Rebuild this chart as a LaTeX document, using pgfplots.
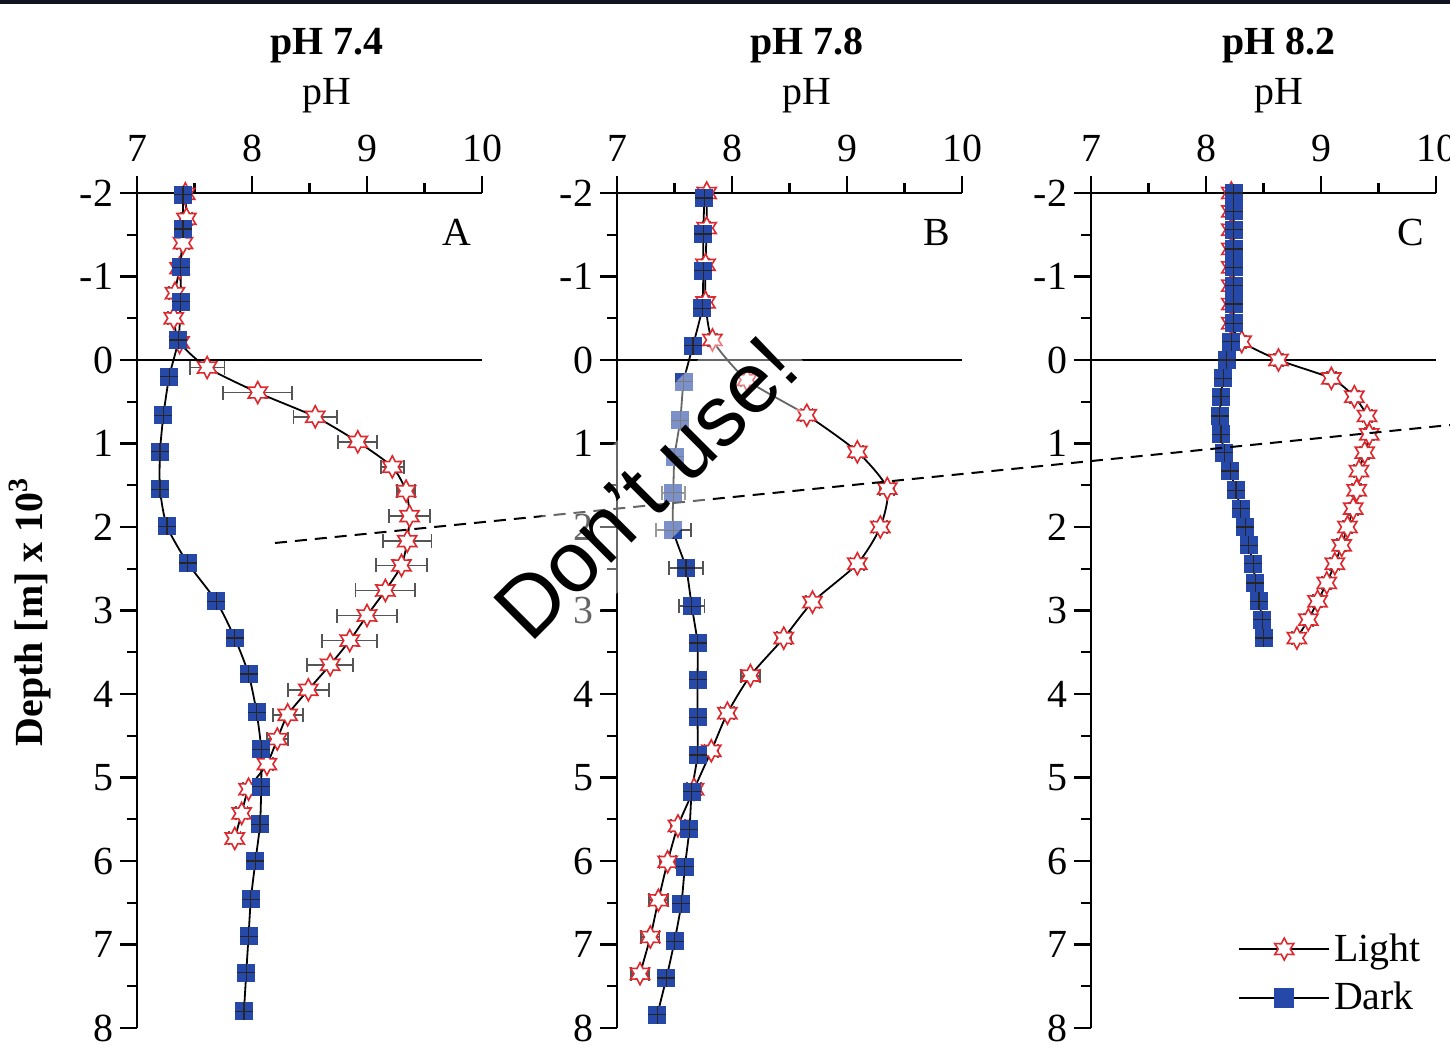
\documentclass[border=0pt]{standalone}
\usepackage{fontspec}
\setmainfont{Liberation Serif}
\newfontfamily\wmfont{Liberation Sans}
\usepackage{pgfplots}
\pgfplotsset{compat=1.18}

\definecolor{darkblue}{RGB}{38,72,168}
\definecolor{starred}{RGB}{222,40,45}
\definecolor{ebgray}{RGB}{85,85,85}
\definecolor{topbar}{RGB}{16,20,32}

\newcommand\fs{\fontsize{20}{24}\selectfont}

% open six-pointed star
\pgfdeclareplotmark{ostar}{%
  \pgfpathmoveto{\pgfpointpolar{90}{\pgfplotmarksize}}%
  \pgfpathlineto{\pgfpointpolar{120}{0.55\pgfplotmarksize}}%
  \pgfpathlineto{\pgfpointpolar{150}{\pgfplotmarksize}}%
  \pgfpathlineto{\pgfpointpolar{180}{0.55\pgfplotmarksize}}%
  \pgfpathlineto{\pgfpointpolar{210}{\pgfplotmarksize}}%
  \pgfpathlineto{\pgfpointpolar{240}{0.55\pgfplotmarksize}}%
  \pgfpathlineto{\pgfpointpolar{270}{\pgfplotmarksize}}%
  \pgfpathlineto{\pgfpointpolar{300}{0.55\pgfplotmarksize}}%
  \pgfpathlineto{\pgfpointpolar{330}{\pgfplotmarksize}}%
  \pgfpathlineto{\pgfpointpolar{0}{0.55\pgfplotmarksize}}%
  \pgfpathlineto{\pgfpointpolar{30}{\pgfplotmarksize}}%
  \pgfpathlineto{\pgfpointpolar{60}{0.55\pgfplotmarksize}}%
  \pgfpathclose
  \pgfusepathqfillstroke}

% filled square with a thin cross (error bars inside the marker)
\pgfdeclareplotmark{sqplus}{%
  \pgfpathrectangle{\pgfpoint{-\pgfplotmarksize}{-\pgfplotmarksize}}{\pgfpoint{2\pgfplotmarksize}{2\pgfplotmarksize}}%
  \pgfusepathqfill
  \pgfpathmoveto{\pgfpoint{-\pgfplotmarksize}{0pt}}\pgfpathlineto{\pgfpoint{\pgfplotmarksize}{0pt}}%
  \pgfpathmoveto{\pgfpoint{0pt}{-\pgfplotmarksize}}\pgfpathlineto{\pgfpoint{0pt}{\pgfplotmarksize}}%
  \pgfusepathqstroke}

\pgfplotsset{
  panel/.style={
    scale only axis, width=172.5bp, height=417.5bp,
    xmin=7, xmax=10, ymin=-2, ymax=8, y dir=reverse,
    axis x line*=top, axis y line*=left,
    axis line style={line width=1.4bp, -},
    xtick={7,8,9,10}, ytick={-2,-1,...,8}, minor tick num=1,
    tick align=outside, major tick length=8.5bp, minor tick length=5bp,
    tick style={line width=1.2bp, black},
    tick label style={font=\fs},
    xticklabel style={yshift=3.5bp},
    /pgf/number format/assume math mode=true,
  },
  ebars/.style={
    error bars/x dir=both, error bars/x explicit,
    error bars/error bar style={ebgray, line width=0.9bp},
    error bars/error mark options={ebgray, line width=0.9bp, mark size=3.5bp, rotate=90}},
  light/.style={black, line width=0.9bp, smooth, tension=0.4,
    mark=ostar, mark size=5.5bp,
    mark options={draw=starred, fill=white, line width=0.8bp}, ebars},
  dark/.style={black, line width=0.9bp, smooth, tension=0.4,
    mark=sqplus, mark size=4.5bp,
    mark options={fill=darkblue, draw=black!85, line width=0.6bp}, ebars},
}

\begin{document}
\begin{tikzpicture}[font=\fs]
\useasboundingbox (0,0) rectangle (725bp,524bp);
\fill[topbar] (0,522bp) rectangle (725bp,524bp);

% ---------- panel A : pH 7.4
\begin{axis}[panel, at={(68.5bp,10bp)}, anchor=south west]
\draw[line width=1.4bp] (axis cs:7,0) -- (axis cs:10,0);
\addplot[light] coordinates {
  (7.42,-1.99) +- (0.04,0)  (7.43,-1.69) +- (0.05,0)  (7.40,-1.40) +- (0.05,0)
  (7.37,-1.10) +- (0.04,0)  (7.33,-0.80) +- (0.05,0)  (7.32,-0.50) +- (0.05,0)
  (7.37,-0.21) +- (0.04,0)  (7.61,0.09) +- (0.15,0)   (8.05,0.39) +- (0.30,0)
  (8.55,0.68) +- (0.19,0)   (8.92,0.98) +- (0.17,0)   (9.22,1.28) +- (0.10,0)
  (9.34,1.57) +- (0.08,0)   (9.37,1.87) +- (0.18,0)   (9.35,2.17) +- (0.21,0)
  (9.30,2.46) +- (0.22,0)   (9.16,2.76) +- (0.26,0)   (9.00,3.06) +- (0.26,0)
  (8.85,3.36) +- (0.24,0)   (8.68,3.65) +- (0.20,0)   (8.49,3.95) +- (0.18,0)
  (8.31,4.25) +- (0.13,0)   (8.22,4.54) +- (0.09,0)   (8.13,4.84) +- (0.05,0)
  (7.97,5.14) +- (0.05,0)   (7.91,5.43) +- (0.05,0)   (7.85,5.73) +- (0.05,0)
};
\addplot[dark] coordinates {
  (7.40,-1.98) +- (0.03,0) (7.40,-1.57) +- (0.03,0) (7.38,-1.11) +- (0.03,0)
  (7.38,-0.70) +- (0.03,0) (7.36,-0.24) +- (0.03,0) (7.28,0.20) +- (0.03,0)
  (7.23,0.66) +- (0.03,0)  (7.20,1.10) +- (0.03,0)  (7.20,1.55) +- (0.03,0)
  (7.26,1.99) +- (0.03,0)  (7.44,2.43) +- (0.03,0)  (7.69,2.89) +- (0.03,0)
  (7.85,3.33) +- (0.03,0)  (7.97,3.76) +- (0.03,0)  (8.04,4.22) +- (0.03,0)
  (8.08,4.66) +- (0.03,0)  (8.08,5.11) +- (0.03,0)  (8.07,5.56) +- (0.03,0)
  (8.03,6.00) +- (0.03,0)  (7.99,6.46) +- (0.03,0)  (7.97,6.90) +- (0.03,0)
  (7.95,7.34) +- (0.03,0)  (7.93,7.80) +- (0.03,0)
};
\node at (axis cs:9.78,-1.53) {A};
\end{axis}

% ---------- panel B : pH 7.8
\begin{axis}[panel, at={(308.5bp,10bp)}, anchor=south west]
\draw[line width=1.4bp] (axis cs:7,0) -- (axis cs:10,0);
\addplot[light] coordinates {
  (7.78,-2.00) +- (0.03,0) (7.78,-1.58) +- (0.03,0) (7.77,-1.14) +- (0.03,0)
  (7.77,-0.69) +- (0.03,0) (7.83,-0.24) +- (0.04,0) (8.13,0.24) +- (0.05,0)
  (8.65,0.66) +- (0.05,0)  (9.09,1.10) +- (0.05,0)  (9.35,1.54) +- (0.06,0)
  (9.29,2.00) +- (0.06,0)  (9.09,2.44) +- (0.06,0)  (8.70,2.90) +- (0.06,0)
  (8.45,3.33) +- (0.06,0)  (8.16,3.78) +- (0.08,0)  (7.96,4.23) +- (0.06,0)
  (7.82,4.68) +- (0.06,0)  (7.67,5.14) +- (0.06,0)  (7.53,5.58) +- (0.06,0)
  (7.44,6.01) +- (0.07,0)  (7.36,6.47) +- (0.08,0)  (7.29,6.91) +- (0.08,0)
  (7.20,7.35) +- (0.08,0)
};
\addplot[dark] coordinates {
  (7.76,-1.94) +- (0.03,0) (7.75,-1.51) +- (0.03,0) (7.75,-1.07) +- (0.03,0)
  (7.74,-0.62) +- (0.03,0) (7.66,-0.17) +- (0.03,0) (7.58,0.26) +- (0.03,0)
  (7.55,0.72) +- (0.03,0)  (7.50,1.16) +- (0.04,0)  (7.49,1.59) +- (0.10,0)
  (7.49,2.04) +- (0.15,0)  (7.60,2.49) +- (0.15,0)  (7.65,2.95) +- (0.11,0)
  (7.70,3.39) +- (0.03,0)  (7.70,3.83) +- (0.03,0)  (7.70,4.28) +- (0.03,0)
  (7.70,4.73) +- (0.03,0)  (7.65,5.17) +- (0.04,0)  (7.63,5.62) +- (0.04,0)
  (7.59,6.07) +- (0.04,0)  (7.56,6.51) +- (0.04,0)  (7.50,6.96) +- (0.04,0)
  (7.43,7.40) +- (0.04,0)  (7.35,7.84) +- (0.04,0)
};
\node at (axis cs:9.78,-1.53) {B};
\end{axis}

% ---------- panel C : pH 8.2
\begin{axis}[panel, at={(545.5bp,10bp)}, anchor=south west,
  legend style={at={(axis description cs:0.985,0.008)}, anchor=south east,
    draw=none, fill=none, font=\fs, row sep=5bp, cells={anchor=west}},
  legend image code/.code={\draw[mark repeat=2,mark phase=2,#1] plot coordinates {(-4bp,0bp) (18.5bp,0bp) (41bp,0bp)};}]
\draw[line width=1.4bp] (axis cs:7,0) -- (axis cs:10,0);
\addlegendimage{black, line width=0.9bp, mark=ostar, mark size=5.5bp, mark options={draw=starred, fill=white, line width=0.8bp}}
\addlegendentry{Light}
\addlegendimage{black, line width=0.9bp, mark=square*, mark size=4.5bp, mark options={fill=darkblue, draw=darkblue}}
\addlegendentry{Dark}
\addplot[forget plot, light] coordinates {
  (8.22,-2.00) +- (0.04,0) (8.22,-1.78) +- (0.04,0) (8.22,-1.56) +- (0.04,0)
  (8.22,-1.33) +- (0.04,0) (8.22,-1.11) +- (0.04,0) (8.22,-0.89) +- (0.04,0)
  (8.22,-0.67) +- (0.04,0) (8.22,-0.44) +- (0.04,0) (8.31,-0.22) +- (0.04,0)
  (8.63,0.00) +- (0.04,0)  (9.09,0.22) +- (0.04,0)  (9.29,0.44) +- (0.04,0)
  (9.40,0.67) +- (0.04,0)  (9.42,0.89) +- (0.04,0)  (9.38,1.11) +- (0.04,0)
  (9.33,1.33) +- (0.04,0)  (9.31,1.56) +- (0.04,0)  (9.28,1.78) +- (0.04,0)
  (9.23,2.00) +- (0.04,0)  (9.18,2.22) +- (0.04,0)  (9.12,2.44) +- (0.04,0)
  (9.05,2.67) +- (0.04,0)  (8.97,2.89) +- (0.04,0)  (8.89,3.11) +- (0.04,0)
  (8.79,3.33) +- (0.04,0)
};
\addplot[forget plot, dark] coordinates {
  (8.24,-2.00) +- (0.03,0) (8.24,-1.78) +- (0.03,0) (8.24,-1.56) +- (0.03,0)
  (8.24,-1.33) +- (0.03,0) (8.24,-1.11) +- (0.03,0) (8.24,-0.89) +- (0.03,0)
  (8.24,-0.67) +- (0.03,0) (8.24,-0.44) +- (0.03,0) (8.22,-0.22) +- (0.03,0)
  (8.18,0.00) +- (0.03,0)  (8.15,0.22) +- (0.03,0)  (8.13,0.44) +- (0.03,0)
  (8.12,0.67) +- (0.03,0)  (8.13,0.89) +- (0.03,0)  (8.16,1.11) +- (0.03,0)
  (8.21,1.33) +- (0.03,0)  (8.26,1.56) +- (0.03,0)  (8.30,1.78) +- (0.03,0)
  (8.34,2.00) +- (0.03,0)  (8.37,2.22) +- (0.03,0)  (8.41,2.44) +- (0.03,0)
  (8.43,2.67) +- (0.03,0)  (8.46,2.89) +- (0.03,0)  (8.49,3.11) +- (0.03,0)
  (8.50,3.33) +- (0.03,0)
};
\node at (axis cs:9.78,-1.53) {C};
\end{axis}

% titles and axis labels
\node[font=\fs\bfseries] at (163.5bp,501bp) {pH 7.4};
\node[font=\fs\bfseries] at (403.5bp,501bp) {pH 7.8};
\node[font=\fs\bfseries] at (639.5bp,501bp) {pH 8.2};
\node at (163.5bp,476bp) {pH};
\node at (403.5bp,476bp) {pH};
\node at (639.5bp,476bp) {pH};
\node[font=\fs\bfseries, rotate=90] at (15bp,218bp) {Depth [m] x 10\textsuperscript{3}};

% overlay marks
\draw[dash pattern=on 6bp off 4bp, line width=1bp] (137.5bp,252.5bp) -- (725bp,311.5bp);
\node[rotate=45, fill=white, fill opacity=0.4, text opacity=1, inner xsep=4bp, inner ysep=12bp,
  font=\wmfont\fontsize{43}{50}\selectfont] at (323bp,280bp) {Don’t use!};
\end{tikzpicture}
\end{document}
